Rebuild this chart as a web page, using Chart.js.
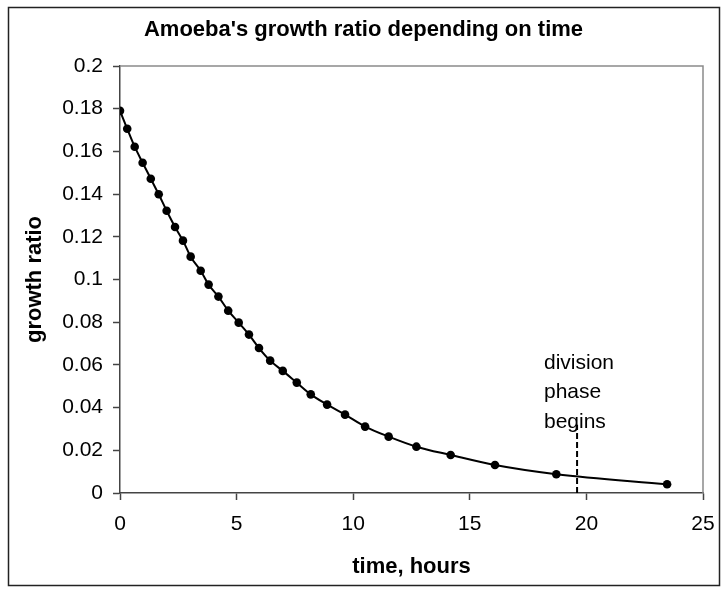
<!DOCTYPE html>
<html>
<head>
<meta charset="utf-8">
<title>Amoeba's growth ratio</title>
<script src="https://cdn.jsdelivr.net/npm/chart.js@4"></script>
<style>
  html, body { margin: 0; padding: 0; background: #fff; }
  canvas { display: block; }
</style>
</head>
<body>
<canvas id="amoebaChart" width="727" height="592"></canvas>
<script>
// Dados (tempo em horas / razão de crescimento)
const timeHours = [0, 0.31, 0.63, 0.97, 1.32, 1.66, 2.00, 2.36, 2.70, 3.03,
    3.46, 3.80, 4.22, 4.64, 5.09, 5.53, 5.96, 6.44, 6.98, 7.58,
    8.18, 8.88, 9.65, 10.51, 11.52, 12.71, 14.18, 16.08, 18.71, 23.46];
const growthRatio = [0.179, 0.1706, 0.1622, 0.1547, 0.1472, 0.1399, 0.1322, 0.1246, 0.1182, 0.1107,
    0.1041, 0.0976, 0.0920, 0.0854, 0.0798, 0.0742, 0.0679, 0.0620, 0.0572, 0.0517,
    0.0462, 0.0414, 0.0367, 0.0311, 0.0264, 0.0217, 0.0178, 0.0131, 0.0088, 0.0041];

// linha tracejada: início da fase de divisão
const divisionTime = [19.6, 19.6];
const divisionLine = [0, 0.032];
const noteLines = ['division', 'phase', 'begins'];
const notePos = { x: 18.18, y: 0.061 };

// eixos
const xTicks = [0, 5, 10, 15, 20, 25];
const yTicks = [0, 0.02, 0.04, 0.06, 0.08, 0.1, 0.12, 0.14, 0.16, 0.18, 0.2];

const FONT = '"Liberation Sans", Arial, sans-serif';

// borda do gráfico, moldura da área de plotagem e texto da anotação
const framePlugin = {
    id: 'frame',
    beforeDatasetsDraw(chart) {
        const { ctx, chartArea } = chart;
        ctx.save();
        ctx.strokeStyle = '#8a8a8a';
        ctx.lineWidth = 1.5;
        ctx.beginPath();
        ctx.moveTo(chartArea.left, chartArea.top);
        ctx.lineTo(chartArea.right, chartArea.top);
        ctx.lineTo(chartArea.right, chartArea.bottom);
        ctx.stroke();
        ctx.restore();
    },
    afterDraw(chart) {
        const { ctx, scales } = chart;
        ctx.save();
        ctx.strokeStyle = '#222';
        ctx.lineWidth = 1.5;
        ctx.strokeRect(8.5, 7.5, 711, 578);

        ctx.fillStyle = '#000';
        ctx.font = '21px ' + FONT;
        ctx.textAlign = 'left';
        ctx.textBaseline = 'middle';
        const x = scales.x.getPixelForValue(notePos.x);
        const y0 = scales.y.getPixelForValue(notePos.y);
        noteLines.forEach((line, i) => {
            ctx.fillText(line, x, y0 + i * 29.5);
        });
        ctx.restore();
    }
};

const config = {
    type: 'scatter',
    data: {
        datasets: [{
            data: timeHours.map((t, i) => ({ x: t, y: growthRatio[i] })),
            showLine: true,
            borderColor: '#000',
            backgroundColor: '#000',
            borderWidth: 2,
            pointRadius: 4.3,
            pointBackgroundColor: '#000',
            pointBorderWidth: 0,
            cubicInterpolationMode: 'monotone'
        }, {
            data: divisionTime.map((t, i) => ({ x: t, y: divisionLine[i] })),
            showLine: true,
            borderColor: '#000',
            borderWidth: 2,
            borderDash: [6, 3],
            pointRadius: 0
        }]
    },
    options: {
        responsive: false,
        animation: false,
        layout: { padding: 0 },
        plugins: {
            legend: { display: false },
            tooltip: { enabled: false },
            title: {
                display: true,
                text: "Amoeba's growth ratio depending on time",
                color: '#000',
                font: { family: FONT, size: 22, weight: 'bold' },
                padding: { top: 17, bottom: 22.6 }
            }
        },
        scales: {
            x: {
                type: 'linear',
                min: 0,
                max: 25,
                afterFit(scale) { scale.height = 99; },
                afterBuildTicks(scale) { scale.ticks = xTicks.map(v => ({ value: v })); },
                grid: { drawOnChartArea: false, tickLength: 7, tickColor: '#444', tickWidth: 1.5 },
                border: { color: '#444', width: 1.5 },
                ticks: { color: '#000', padding: 12, maxRotation: 0, font: { family: FONT, size: 21 } },
                title: {
                    display: true,
                    text: 'time, hours',
                    color: '#000',
                    font: { family: FONT, size: 22, weight: 'bold' },
                    padding: { top: 12, bottom: 12 }
                }
            },
            y: {
                type: 'linear',
                min: 0,
                max: 0.2,
                afterFit(scale) { scale.width = 120; },
                afterBuildTicks(scale) { scale.ticks = yTicks.map(v => ({ value: v })); },
                grid: { drawOnChartArea: false, tickLength: 7, tickColor: '#444', tickWidth: 1.5 },
                border: { color: '#444', width: 1.5 },
                ticks: {
                    color: '#000',
                    padding: 10,
                    font: { family: FONT, size: 21 },
                    callback: v => String(+v.toFixed(2))
                },
                title: {
                    display: true,
                    text: 'growth ratio',
                    color: '#000',
                    font: { family: FONT, size: 22, weight: 'bold' },
                    padding: { top: 22, bottom: 22 }
                }
            },
            // eixo vazio à direita, só para reservar a margem (título fica centrado no gráfico todo)
            yRight: {
                type: 'linear',
                position: 'right',
                min: 0,
                max: 0.2,
                afterFit(scale) { scale.width = 24; },
                grid: { display: false },
                border: { display: false },
                ticks: { display: false }
            }
        }
    },
    plugins: [framePlugin]
};

const amoebaChart = new Chart(document.getElementById('amoebaChart'), config);
</script>
</body>
</html>
